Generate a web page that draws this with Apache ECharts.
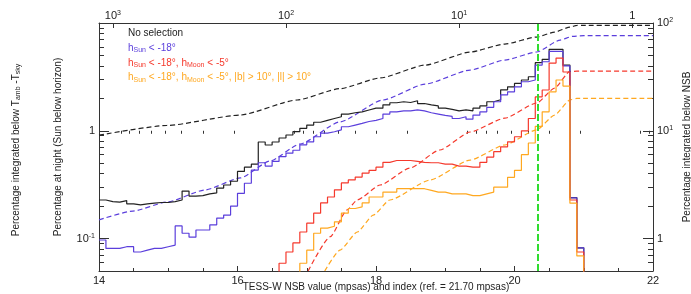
<!DOCTYPE html>
<html>
<head>
<meta charset="utf-8">
<style>
  html, body { margin: 0; padding: 0; background: #fff; }
  #chart { width: 691px; height: 294px; }
</style>
<script src="https://cdn.jsdelivr.net/npm/echarts@6/dist/echarts.min.js"></script>
</head>
<body>
<div id="chart"></div>
<script>
// bin left edges (mpsas), bins are 0.1 mag wide
const nsbEdges = [14.0, 14.1, 14.2, 14.3, 14.4, 14.5, 14.6, 14.7, 14.8, 14.9,
  15.0, 15.1, 15.2, 15.3, 15.4, 15.5, 15.6, 15.7, 15.8, 15.9,
  16.0, 16.1, 16.2, 16.3, 16.4, 16.5, 16.6, 16.7, 16.8, 16.9,
  17.0, 17.1, 17.2, 17.3, 17.4, 17.5, 17.6, 17.7, 17.8, 17.9,
  18.0, 18.1, 18.2, 18.3, 18.4, 18.5, 18.6, 18.7, 18.8, 18.9,
  19.0, 19.1, 19.2, 19.3, 19.4, 19.5, 19.6, 19.7, 19.8, 19.9,
  20.0, 20.1, 20.2, 20.3, 20.4, 20.5, 20.6, 20.7, 20.8, 20.9, 21.0];

// percentage at night per bin (0 = empty bin)
const pctNoSel = [0.228, 0.22, 0.218, 0.225, 0.21, 0.205, 0.21, 0.213, 0.216, 0.216,
  0.22, 0.228, 0.276, 0.248, 0.25, 0.26, 0.265, 0.294, 0.314, 0.34,
  0.42, 0.46, 0.49, 0.787, 0.738, 0.787, 0.857, 0.914, 0.98, 1.054,
  1.13, 1.2, 1.25, 1.30, 1.35, 1.43, 1.47, 1.50, 1.56, 1.62,
  1.62, 1.74, 1.82, 1.86, 1.83, 1.90, 1.79, 1.74, 1.70, 1.62,
  1.58, 1.53, 1.56, 1.53, 1.62, 1.70, 1.86, 1.94, 2.4, 2.56,
  2.75, 2.96, 3.17, 4.28, 4.6, 5.7, 5.7, 4.07, 0.24, 0.082];
const pctSun = [0.097, 0.081, 0.081, 0.084, 0.084, 0.075, 0.078, 0.081, 0.081, 0.084,
  0.087, 0.131, 0.112, 0.103, 0.12, 0.12, 0.134, 0.155, 0.165, 0.2,
  0.263, 0.326, 0.432, 0.505, 0.47, 0.52, 0.575, 0.62, 0.66, 0.74,
  0.79, 0.88, 0.95, 0.98, 1.02, 1.09, 1.13, 1.17, 1.22, 1.25,
  1.30, 1.43, 1.50, 1.53, 1.53, 1.56, 1.53, 1.47, 1.43, 1.39,
  1.36, 1.30, 1.35, 1.28, 1.40, 1.50, 1.65, 1.86, 2.15, 2.30,
  2.56, 2.85, 2.96, 4.07, 4.37, 5.45, 5.45, 4.0, 0.238, 0.082];
const pctSunMoon = [0, 0, 0, 0, 0, 0, 0, 0, 0, 0,
  0, 0, 0, 0, 0, 0, 0, 0, 0, 0,
  0, 0, 0, 0, 0, 0, 0.059, 0.075, 0.091, 0.115,
  0.139, 0.172, 0.214, 0.243, 0.283, 0.328, 0.35, 0.372, 0.405, 0.43,
  0.46, 0.51, 0.53, 0.53, 0.53, 0.52, 0.51, 0.505, 0.505, 0.49,
  0.49, 0.47, 0.47, 0.46, 0.46, 0.51, 0.57, 0.64, 0.71, 0.79,
  0.88, 1.0, 1.3, 2.06, 2.39, 4.25, 4.73, 3.51, 0.228, 0.075];
const pctSunMoonGal = [0, 0, 0, 0, 0, 0, 0, 0, 0, 0,
  0, 0, 0, 0, 0, 0, 0, 0, 0, 0,
  0, 0, 0, 0, 0, 0, 0, 0, 0, 0.059,
  0.078, 0.112, 0.125, 0.13, 0.143, 0.172, 0.19, 0.197, 0.214, 0.243,
  0.243, 0.27, 0.27, 0.29, 0.29, 0.29, 0.29, 0.28, 0.27, 0.27,
  0.26, 0.26, 0.26, 0.25, 0.25, 0.26, 0.27, 0.30, 0.30, 0.37,
  0.43, 0.6, 0.77, 1.1, 1.5, 2.3, 2.96, 2.6, 0.213, 0.069];

// percentage integrated below NSB, [mpsas, %]
const cumNoSel = [[14.0, 9.1], [14.98, 11.2], [16.04, 14.0], [16.86, 19.3], [17.48, 24.6],
  [18.06, 30.9], [18.71, 40.7], [19.36, 53.8], [19.86, 63.8], [20.32, 74.1], [20.58, 82.4],
  [20.8, 91.7], [20.9, 94.9], [21.0, 95], [22.0, 95]];
const cumSun = [[14.0, 1.49], [14.49, 1.8], [14.98, 2.18], [15.53, 2.82], [16.04, 3.65],
  [16.47, 5.24], [16.9, 7.53], [17.48, 12.1], [18.1, 19.3], [18.71, 27.1], [19.36, 36.6],
  [19.86, 45.3], [20.32, 53.8], [20.66, 69.5], [20.84, 75.3], [21.0, 76.2], [22.0, 76.2]];
const cumSunMoon = [[17.02, 0.5], [17.34, 1.04], [17.58, 1.84], [17.73, 2.28], [18.06, 3.14],
  [18.49, 4.51], [18.92, 6.63], [19.36, 9.74], [19.86, 13.1], [20.32, 18.1], [20.58, 24.9],
  [20.8, 35.6], [21.0, 35.8], [22.0, 35.8]];
const cumSunMoonGal = [[17.26, 0.5], [17.48, 0.78], [17.73, 1.15], [17.96, 1.65], [18.2, 2.28],
  [18.78, 3.49], [19.36, 5.35], [19.86, 7.38], [20.32, 10.2], [20.58, 14.0], [20.8, 19.3],
  [20.9, 20.0], [22.0, 20.0]];

const refMpsas = 21.70;
const cutMpsas = 20.33;

// tick values
const indexMajor = [1000, 100, 10, 1];
const indexMinor = [900, 800, 700, 600, 500, 400, 300, 200,
  90, 80, 70, 60, 50, 40, 30, 20, 9, 8, 7, 6, 5, 4, 3, 2, 0.9, 0.8];
const leftMajor = [0.1, 1];
const leftMinor = [0.06, 0.07, 0.08, 0.09, 0.2, 0.3, 0.4, 0.5, 0.6, 0.7, 0.8, 0.9,
  2, 3, 4, 5, 6, 7, 8, 9];
const rightMajor = [1, 10, 100];
const rightMinor = [0.6, 0.7, 0.8, 0.9, 2, 3, 4, 5, 6, 7, 8, 9,
  20, 30, 40, 50, 60, 70, 80, 90];

const FONT = '"Liberation Sans", Arial, Helvetica, sans-serif';
const INK = '#222';
const AXIS = '#333';
const C_BLACK = '#222222', C_BLUE = '#5b3fdc', C_RED = '#f5392c', C_ORANGE = '#ffa820', C_GREEN = '#2fdc2f';

const log10 = Math.log10;
const idxToMag = v => refMpsas - 2.5 * log10(v);

const supRich = {
  b: { fontSize: 11, fontFamily: FONT, color: INK, lineHeight: 12 },
  e: { fontSize: 7, fontFamily: FONT, color: INK, lineHeight: 7, verticalAlign: 'top' }
};
function powLabel(exp) {
  return exp === 0 ? '{b|1}' : '{b|10}{e|' + exp + '}';
}

const lineAxis = { show: true, onZero: false, lineStyle: { color: AXIS, width: 1 } };
const tickStyle = { color: AXIS, width: 1 };

function hist(vals, color) {
  return {
    type: 'line', xAxisIndex: 0, yAxisIndex: 0, step: 'end',
    symbol: 'none', silent: true,
    lineStyle: { color: color, width: 1.2 },
    data: nsbEdges.map((m, i) => [m, vals[i] > 0 ? vals[i] : 1e-3])
  };
}
function cum(pts, color) {
  return {
    type: 'line', xAxisIndex: 0, yAxisIndex: 3, smooth: 0.2, smoothMonotone: 'x',
    symbol: 'none', silent: true,
    lineStyle: { color: color, width: 1.2, type: [5, 3] },
    data: pts
  };
}

const cumBlack = cum(cumNoSel, C_BLACK);
cumBlack.markLine = {
  silent: true, symbol: ['none', 'none'], label: { show: false },
  lineStyle: { color: C_GREEN, width: 2, type: [7, 3] },
  data: [{ xAxis: cutMpsas }]
};

function legendLine(y, text, color) {
  return {
    type: 'text', x: 128, y: y, z: 100,
    style: {
      text: text, fill: color, fontSize: 10, fontFamily: FONT,
      lineHeight: 12, align: 'left', verticalAlign: 'middle',
      rich: { s: { fontSize: 7, fontFamily: FONT, lineHeight: 7, verticalAlign: 'bottom' } }
    }
  };
}
function title(x, y, text, rot) {
  return {
    type: 'text', x: x, y: y, rotation: rot, z: 100,
    style: {
      text: text, fill: INK, fontSize: 10, fontFamily: FONT, lineHeight: 12,
      align: 'center', verticalAlign: 'middle',
      rich: { s: { fontSize: 7, fontFamily: FONT, lineHeight: 7, verticalAlign: 'bottom' } }
    }
  };
}

const chart = echarts.init(document.getElementById('chart'), null, { width: 691, height: 294 });
chart.setOption({
  animation: false,
  backgroundColor: '#fff',
  grid: { left: 99, right: 38, top: 23, bottom: 23, containLabel: false, outerBoundsMode: 'none' },
  xAxis: [
    {
      type: 'value', min: 14, max: 22, interval: 2, position: 'bottom',
      axisLine: lineAxis,
      axisTick: { show: true, inside: true, length: 5, lineStyle: tickStyle },
      minorTick: { show: true, splitNumber: 4, length: 3, lineStyle: tickStyle },
      axisLabel: { fontSize: 11, fontFamily: FONT, color: INK, margin: 4 },
      splitLine: { show: false }, minorSplitLine: { show: false }
    },
    {
      type: 'value', min: 14, max: 22, position: 'top',
      axisLine: lineAxis,
      axisTick: { show: true, inside: true, length: 5, lineStyle: tickStyle, customValues: indexMajor.map(idxToMag) },
      axisLabel: {
        show: true, margin: 1, customValues: indexMajor.map(idxToMag), rich: supRich,
        formatter: v => powLabel(Math.round((refMpsas - v) / 2.5))
      },
      splitLine: { show: false }
    },
    {
      type: 'value', min: 14, max: 22, position: 'top',
      axisLine: { show: false },
      axisTick: { show: true, inside: true, length: 3, lineStyle: tickStyle, customValues: indexMinor.map(idxToMag) },
      axisLabel: { show: false }, splitLine: { show: false }
    }
  ],
  yAxis: [
    {
      type: 'log', logBase: 10, min: 0.05, max: 10, position: 'left',
      axisLine: { show: false }, axisTick: { show: false }, axisLabel: { show: false }, splitLine: { show: false }
    },
    {
      type: 'value', min: log10(0.05), max: 1, position: 'left',
      axisLine: lineAxis,
      axisTick: { show: true, inside: true, length: 10, lineStyle: tickStyle, customValues: leftMajor.map(log10) },
      axisLabel: {
        show: true, margin: 4, customValues: leftMajor.map(log10), rich: supRich,
        formatter: v => powLabel(Math.round(v))
      },
      splitLine: { show: false }
    },
    {
      type: 'value', min: log10(0.05), max: 1, position: 'left',
      axisLine: { show: false },
      axisTick: { show: true, inside: true, length: 5, lineStyle: tickStyle, customValues: leftMinor.map(log10) },
      axisLabel: { show: false }, splitLine: { show: false }
    },
    {
      type: 'log', logBase: 10, min: 0.5, max: 100, position: 'right',
      axisLine: { show: false }, axisTick: { show: false }, axisLabel: { show: false }, splitLine: { show: false }
    },
    {
      type: 'value', min: log10(0.5), max: 2, position: 'right',
      axisLine: lineAxis,
      axisTick: { show: true, inside: true, length: 10, lineStyle: tickStyle, customValues: rightMajor.map(log10) },
      axisLabel: {
        show: true, margin: 4, customValues: rightMajor.map(log10), rich: supRich,
        formatter: v => powLabel(Math.round(v))
      },
      splitLine: { show: false }
    },
    {
      type: 'value', min: log10(0.5), max: 2, position: 'right',
      axisLine: { show: false },
      axisTick: { show: true, inside: true, length: 5, lineStyle: tickStyle, customValues: rightMinor.map(log10) },
      axisLabel: { show: false }, splitLine: { show: false }
    }
  ],
  series: [
    cumBlack,
    cum(cumSun, C_BLUE),
    cum(cumSunMoon, C_RED),
    cum(cumSunMoonGal, C_ORANGE),
    hist(pctNoSel, C_BLACK),
    hist(pctSun, C_BLUE),
    hist(pctSunMoon, C_RED),
    hist(pctSunMoonGal, C_ORANGE)
  ],
  graphic: [
    legendLine(33, 'No selection', C_BLACK),
    legendLine(48, 'h{s|Sun} < -18°', C_BLUE),
    legendLine(63, 'h{s|Sun} < -18°, h{s|Moon} < -5°', C_RED),
    legendLine(77.5, 'h{s|Sun} < -18°, h{s|Moon} < -5°, |b| > 10°, |l| > 10°', C_ORANGE),
    title(16, 150, 'Percentage integrated below T{s|amb} -T{s|sky}', Math.PI / 2),
    title(58, 147, 'Percentage at night (Sun below horizon)', Math.PI / 2),
    title(687, 147, 'Percentage integrated below NSB', Math.PI / 2),
    title(376, 287, 'TESS-W NSB value (mpsas) and index (ref. = 21.70 mpsas)', 0)
  ]
});
</script>
</body>
</html>
